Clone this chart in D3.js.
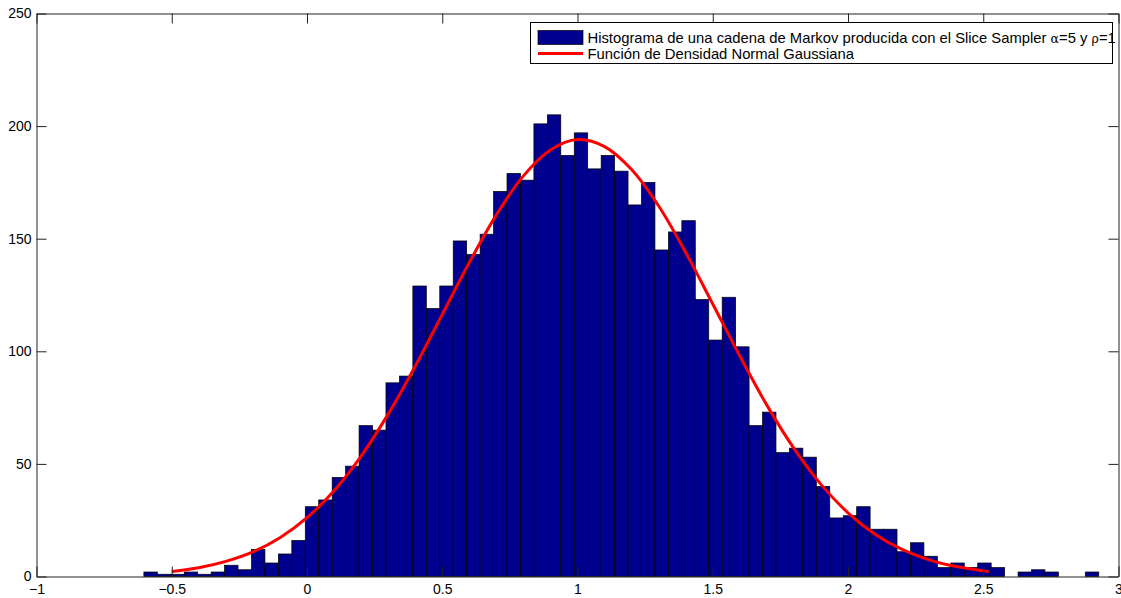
<!DOCTYPE html>
<html>
<head>
<meta charset="utf-8">
<script src="https://cdn.jsdelivr.net/npm/d3@7"></script>
<style>
  html, body { margin: 0; padding: 0; background: #fff; }
  svg { display: block; font-family: "Liberation Sans", Arial, Helvetica, sans-serif; }
</style>
</head>
<body>
<svg id="chart" width="1121" height="598"></svg>
<script>
// Histogram of the Markov chain (71 equal bins between binLo and binHi)
const binLo = -0.603;
const binHi = 2.927;
const counts = [
  2, 1, 1, 2, 1, 2, 5, 3, 12, 6,
  10, 16, 31, 34, 44, 49, 67, 65, 86, 89,
  129, 119, 129, 149, 143, 152, 171, 179, 176, 201,
  205, 187, 197, 181, 187, 180, 165, 175, 145, 153,
  158, 123, 105, 124, 102, 67, 73, 55, 57, 53,
  40, 26, 27, 31, 21, 21, 11, 15, 9, 4,
  6, 4, 6, 4, 0, 2, 3, 2, 0, 0,
  2
];

// Fitted normal density, scaled to counts, sampled along x
const curveX = [-0.5, -0.4, -0.3, -0.2, -0.1, 0, 0.1, 0.2, 0.3, 0.4, 0.5, 0.6, 0.7, 0.8, 0.9, 1.0,
                1.1, 1.2, 1.3, 1.4, 1.5, 1.6, 1.7, 1.8, 1.9, 2.0, 2.1, 2.2, 2.3, 2.4, 2.5, 2.52];
const curveY = [2.2, 3.9, 6.7, 10.9, 17.2, 26.1, 38.1, 53.5, 72.1, 93.4, 116.4, 139.4, 160.6, 177.9, 189.4, 194.0,
                190.9, 180.7, 164.5, 143.9, 121.0, 97.9, 76.1, 56.9, 40.9, 28.3, 18.8, 12.0, 7.4, 4.4, 2.5, 2.2];

const xTicks = [-1, -0.5, 0, 0.5, 1, 1.5, 2, 2.5, 3];
const yTicks = [0, 50, 100, 150, 200, 250];

const legendLabels = [
  "Histograma de una cadena de Markov producida con el Slice Sampler ",
  "Función de Densidad Normal Gaussiana"
];

const svg = d3.select("#chart");
const plot = { left: 36.5, right: 1118.5, top: 13.5, bottom: 576.5 };

const x = d3.scaleLinear().domain([-1, 3]).range([plot.left, plot.right]);
const y = d3.scaleLinear().domain([0, 250]).range([plot.bottom, plot.top]);

const binWidth = (binHi - binLo) / counts.length;
const bins = counts.map((c, i) => ({ x0: binLo + i * binWidth, x1: binLo + (i + 1) * binWidth, n: c }));

// bars
svg.append("g")
  .selectAll("rect")
  .data(bins.filter(d => d.n > 0))
  .join("rect")
  .attr("x", d => x(d.x0))
  .attr("width", d => x(d.x1) - x(d.x0))
  .attr("y", d => y(d.n))
  .attr("height", d => y(0) - y(d.n))
  .attr("fill", "#00008f")
  .attr("stroke", "#000")
  .attr("stroke-width", 0.7);

// density curve
const line = d3.line()
  .x((d, i) => x(curveX[i]))
  .y(d => y(d))
  .curve(d3.curveCatmullRom);

svg.append("path")
  .datum(curveY)
  .attr("d", line)
  .attr("fill", "none")
  .attr("stroke", "#ff0000")
  .attr("stroke-width", 3);

// axes (box with inward ticks on all sides)
const fmt = d3.format("~g");
const axisColor = "#222";

function styleAxis(g, showText) {
  g.selectAll(".domain").attr("stroke", axisColor).attr("stroke-width", 1);
  g.selectAll(".tick line").attr("stroke", axisColor).attr("stroke-width", 1);
  g.selectAll(".tick text")
    .attr("fill", "#000")
    .style("font-size", "14px")
    .style("font-family", "'Liberation Sans', Arial, Helvetica, sans-serif")
    .style("display", showText ? null : "none");
}

svg.append("g")
  .attr("transform", `translate(0,${plot.bottom})`)
  .call(d3.axisBottom(x).tickValues(xTicks).tickFormat(fmt).tickSizeInner(-10).tickSizeOuter(0).tickPadding(8))
  .call(g => styleAxis(g, true));

svg.append("g")
  .attr("transform", `translate(0,${plot.top})`)
  .call(d3.axisTop(x).tickValues(xTicks).tickSizeInner(-10).tickSizeOuter(0))
  .call(g => styleAxis(g, false));

svg.append("g")
  .attr("transform", `translate(${plot.left},0)`)
  .call(d3.axisLeft(y).tickValues(yTicks).tickFormat(fmt).tickSizeInner(-10).tickSizeOuter(0).tickPadding(5))
  .call(g => styleAxis(g, true));

svg.append("g")
  .attr("transform", `translate(${plot.right},0)`)
  .call(d3.axisRight(y).tickValues(yTicks).tickSizeInner(-10).tickSizeOuter(0))
  .call(g => styleAxis(g, false));

// legend
const lg = svg.append("g").attr("transform", "translate(530.5,22.5)");
lg.append("rect")
  .attr("width", 582).attr("height", 41)
  .attr("fill", "#fff").attr("stroke", "#000").attr("stroke-width", 1);

lg.append("rect")
  .attr("x", 7.5).attr("y", 8)
  .attr("width", 45).attr("height", 14)
  .attr("fill", "#00008f").attr("stroke", "#000").attr("stroke-width", 0.7);

lg.append("line")
  .attr("x1", 7.5).attr("x2", 52.5)
  .attr("y1", 31).attr("y2", 31)
  .attr("stroke", "#ff0000").attr("stroke-width", 3);

const t1 = lg.append("text")
  .attr("x", 57).attr("y", 20)
  .style("font-size", "14.8px").attr("fill", "#000");
t1.append("tspan").text(legendLabels[0]);
t1.append("tspan").style("font-family", "'DejaVu Serif', serif").style("font-size", "12.5px").text("α");
t1.append("tspan").text("=5 y ");
t1.append("tspan").style("font-family", "'DejaVu Serif', serif").style("font-size", "12.5px").text("ρ");
t1.append("tspan").text("=1");

lg.append("text")
  .attr("x", 57).attr("y", 36)
  .style("font-size", "14.8px").attr("fill", "#000")
  .text(legendLabels[1]);
</script>
</body>
</html>
